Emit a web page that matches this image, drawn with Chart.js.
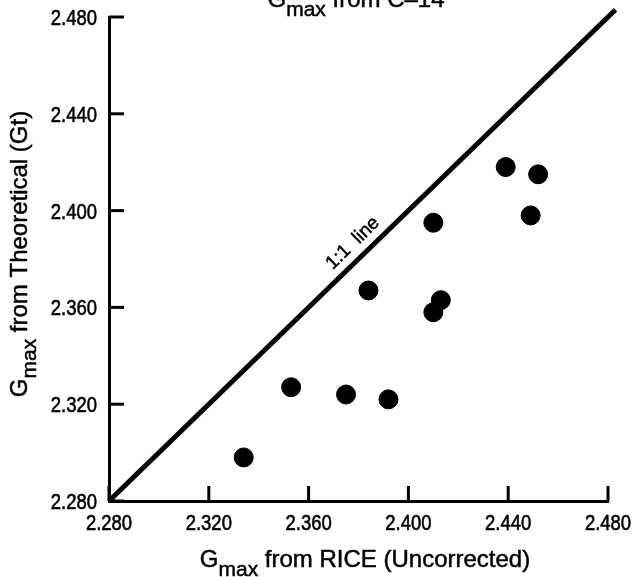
<!DOCTYPE html>
<html>
<head>
<meta charset="UTF-8">
<title>Gmax from C-14</title>
<script src="https://cdn.jsdelivr.net/npm/chart.js"></script>
<style>
  html, body { margin: 0; padding: 0; background: #fff; }
</style>
</head>
<body>
<canvas id="gmaxChart" width="632" height="577"></canvas>
<script>
// values
var riceX  = [2.334, 2.353, 2.375, 2.392, 2.384, 2.410, 2.413, 2.410, 2.439, 2.452, 2.449];
var theoY  = [2.298, 2.327, 2.324, 2.322, 2.367, 2.358, 2.363, 2.395, 2.418, 2.415, 2.398];
var lineEnds = [2.280, 2.483];
var tickValues = [2.280, 2.320, 2.360, 2.400, 2.440, 2.480];

var FONT = '"Liberation Sans", Arial, sans-serif';

var points = riceX.map(function (x, i) { return { x: x, y: theoY[i] }; });
var lineData = lineEnds.map(function (v) { return { x: v, y: v }; });

// text with a "max" subscript, centred on cx
function subText(ctx, cx, cy, parts) {
    var w = 0;
    parts.forEach(function (p) {
        ctx.font = p.size + 'px ' + FONT;
        p.w = ctx.measureText(p.t).width;
        w += p.w;
    });
    var x = cx - w / 2;
    ctx.textAlign = 'left';
    ctx.textBaseline = 'alphabetic';
    ctx.lineWidth = 0.5;
    parts.forEach(function (p) {
        ctx.font = p.size + 'px ' + FONT;
        ctx.fillText(p.t, x, cy + (p.dy || 0));
        ctx.strokeText(p.t, x, cy + (p.dy || 0));
        x += p.w;
    });
}

// condensed tick label (the original uses a narrow face)
function narrowText(ctx, txt, x, y, align) {
    ctx.save();
    ctx.translate(x, y);
    ctx.scale(0.84, 1);
    ctx.font = '22px ' + FONT;
    ctx.textAlign = align;
    ctx.textBaseline = 'alphabetic';
    ctx.lineWidth = 0.6;
    ctx.fillText(txt, 0, 0);
    ctx.strokeText(txt, 0, 0);
    ctx.restore();
}

var decorations = {
    id: 'decorations',
    afterDraw: function (chart) {
        var ctx = chart.ctx;
        var xs = chart.scales.x, ys = chart.scales.y;
        var area = chart.chartArea;
        ctx.save();
        ctx.strokeStyle = '#000';
        ctx.fillStyle = '#000';
        ctx.lineCap = 'butt';
        // inward ticks and labels
        tickValues.forEach(function (v) {
            var py = ys.getPixelForValue(v);
            ctx.lineWidth = 3;
            ctx.beginPath();
            ctx.moveTo(area.left, py);
            ctx.lineTo(area.left + 15, py);
            ctx.stroke();
            narrowText(ctx, v.toFixed(3), area.left - 12, py + 8, 'right');
            var px = xs.getPixelForValue(v);
            ctx.lineWidth = 3;
            ctx.beginPath();
            ctx.moveTo(px, area.bottom);
            ctx.lineTo(px, area.bottom - 15);
            ctx.stroke();
            narrowText(ctx, v.toFixed(3), px, area.bottom + 29, 'center');
        });

        // 1:1 line label
        var a = xs.getPixelForValue(2.28), b = ys.getPixelForValue(2.28);
        var c = xs.getPixelForValue(2.48), d = ys.getPixelForValue(2.48);
        var ang = Math.atan2(d - b, c - a);
        var lx = xs.getPixelForValue(2.382), ly = ys.getPixelForValue(2.382);
        ctx.translate(lx, ly);
        ctx.rotate(ang);
        ctx.font = '19px ' + FONT;
        ctx.textAlign = 'center';
        ctx.textBaseline = 'alphabetic';
        ctx.lineWidth = 0.5;
        ctx.fillText('1:1  line', 0, -10);
        ctx.strokeText('1:1  line', 0, -10);
        ctx.setTransform(1, 0, 0, 1, 0, 0);

        // titles
        subText(ctx, 356, 7, [
            { t: 'G', size: 24 }, { t: 'max', size: 21, dy: 9 }, { t: ' from C\u201314', size: 24 }
        ]);
        subText(ctx, 365, 567, [
            { t: 'G', size: 24 }, { t: 'max', size: 21, dy: 9 }, { t: ' from RICE (Uncorrected)', size: 24 }
        ]);
        ctx.translate(27, 254);
        ctx.rotate(-Math.PI / 2);
        subText(ctx, 0, 0, [
            { t: 'G', size: 24 }, { t: 'max', size: 21, dy: 9 }, { t: ' from Theoretical (Gt)', size: 24 }
        ]);
        ctx.restore();
    }
};

function fixedTicks(scale) {
    scale.ticks = tickValues.map(function (v) { return { value: v }; });
}

new Chart(document.getElementById('gmaxChart').getContext('2d'), {
    data: {
        datasets: [{
            type: 'line',
            label: '1:1 line',
            data: lineData,
            borderColor: '#000',
            borderWidth: 5,
            pointRadius: 0,
            fill: false,
            clip: false,
            order: 2
        }, {
            type: 'scatter',
            label: 'Gmax',
            data: points,
            backgroundColor: '#000',
            borderColor: '#000',
            pointRadius: 9.5,
            pointHoverRadius: 9.5,
            order: 1
        }]
    },
    options: {
        responsive: false,
        animation: false,
        layout: { padding: { top: 17, right: 24, left: 0, bottom: 0 } },
        plugins: { legend: { display: false }, tooltip: { enabled: false }, title: { display: false } },
        scales: {
            x: {
                type: 'linear',
                min: 2.28,
                max: 2.48,
                afterBuildTicks: fixedTicks,
                afterFit: function (s) { s.height = 76; },
                grid: { display: false, drawTicks: false },
                border: { display: true, color: '#000', width: 3 },
                ticks: { display: false }
            },
            y: {
                type: 'linear',
                min: 2.28,
                max: 2.48,
                afterBuildTicks: fixedTicks,
                afterFit: function (s) { s.width = 109; },
                grid: { display: false, drawTicks: false },
                border: { display: true, color: '#000', width: 3 },
                ticks: { display: false }
            }
        }
    },
    plugins: [decorations]
});
</script>
</body>
</html>
